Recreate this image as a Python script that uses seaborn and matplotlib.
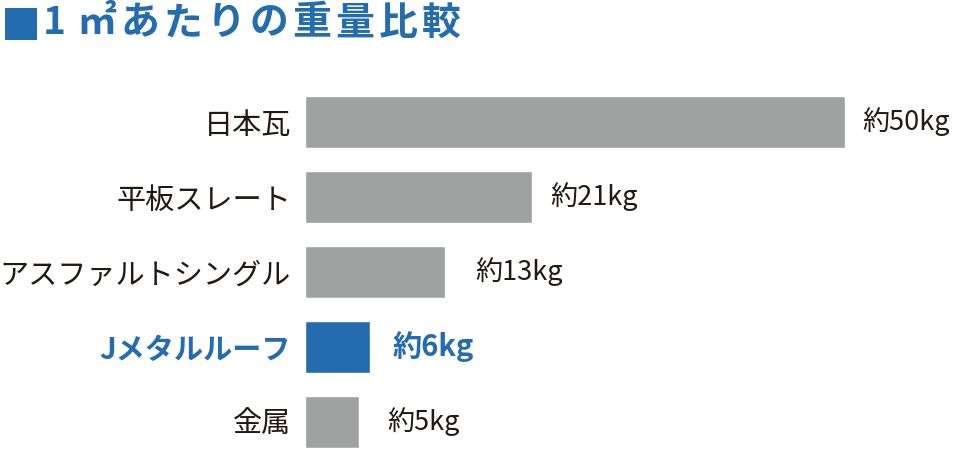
import matplotlib
matplotlib.use('Agg')
import matplotlib.pyplot as plt
from matplotlib.patches import Rectangle
import seaborn as sns
import pandas as pd

# data
categories = ['日本瓦', '平板スレート', 'アスファルトシングル', 'Jメタルルーフ', '金属']
weights = [50, 21, 13, 6, 5]
value_labels = ['約50kg', '約21kg', '約13kg', '約6kg', '約5kg']
highlight = 'Jメタルルーフ'
title = '1㎡あたりの重量比較'

BLUE = '#236cb0'
GRAY = '#a0a2a1'
TEXT = '#231815'
# gap between bar end and value label, in pixels (as in the original layout)
label_gap_px = [17, 18, 30, 23, 28]
PX_PER_KG = 540 / 50

sns.set_theme(style='white')
plt.rcParams['font.family'] = ['Noto Sans CJK JP', 'DejaVu Sans']

df = pd.DataFrame({'category': categories, 'weight': weights})
palette = {c: (BLUE if c == highlight else GRAY) for c in categories}

fig = plt.figure(figsize=(9.6, 4.5), dpi=100)
ax = fig.add_axes([305 / 960, 0.001, 655 / 960, 0.811])
sns.barplot(data=df, x='weight', y='category', hue='category', palette=palette,
            order=categories, orient='h', width=0.7, saturation=1, legend=False, ax=ax)

ax.set_xlim(0, 655 / PX_PER_KG)
ax.set_ylim(4.37, -0.5)
ax.set_xlabel('')
ax.set_ylabel('')
ax.set_xticks([])
sns.despine(ax=ax, left=True, bottom=True)
ax.tick_params(axis='y', length=0, pad=10, labelsize=21)

for lbl in ax.get_yticklabels():
    if lbl.get_text() == highlight:
        lbl.set_color(BLUE)
        lbl.set_fontweight('bold')
    else:
        lbl.set_color(TEXT)

for i, (w, t) in enumerate(zip(weights, value_labels)):
    hl = categories[i] == highlight
    ax.text(w + label_gap_px[i] / PX_PER_KG, i, t, va='center', ha='left',
            fontsize=21 if hl else 19.5,
            color=BLUE if hl else TEXT, fontweight='bold' if hl else 'normal')

# title: blue square + spaced characters
fig.patches.append(Rectangle((5 / 960, 1 - 40 / 450), 32 / 960, 32 / 450,
                             transform=fig.transFigure, facecolor=BLUE, edgecolor='none'))
for k, ch in enumerate(title):
    fig.text((54 + 43 * k) / 960, 1 - 23 / 450, ch, fontsize=28, color=BLUE,
             fontweight='bold', va='center', ha='center')

fig.savefig('out.png', dpi=100)
